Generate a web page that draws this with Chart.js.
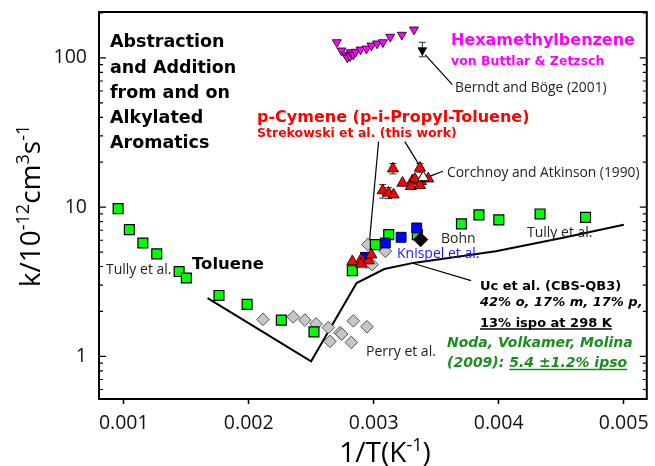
<!DOCTYPE html>
<html><head><meta charset="utf-8">
<script src="https://cdn.jsdelivr.net/npm/chart.js@4.4.1/dist/chart.umd.min.js"></script>
<style>html,body{margin:0;padding:0;background:#fff}canvas{display:block}</style>
</head><body>
<canvas id="c" width="655" height="466"></canvas>
<script>
// ---------- data (x = 1/T in K^-1, y = k / 1e-12 cm3 s-1) ----------
const xTickValues = [0.001, 0.002, 0.003, 0.004, 0.005];
const yMajorTicks = [1, 10, 100];
const yMinorTicks = [0.6, 0.7, 0.8, 0.9, 2, 3, 4, 5, 6, 7, 8, 9, 20, 30, 40, 50, 60, 70, 80, 90, 200];

// Hexamethylbenzene, von Buttlar & Zetzsch
const hmbX = [0.002705, 0.002742, 0.002776, 0.002789, 0.002811, 0.002816, 0.002837, 0.002855, 0.002895, 0.002942, 0.002982, 0.003027, 0.003074, 0.003132, 0.003225, 0.003322];
const hmbY = [127.2, 111.9, 105.1, 100.5, 102.5, 109.0, 105.2, 109.7, 113.6, 115.4, 120.9, 124.7, 127.2, 138.3, 142.6, 154.8];
// Berndt and Boge (2001)
const berndtX = [0.003389];
const berndtY = [112.5];
const berndtLo = [101.7];
const berndtHi = [127.2];
// p-Cymene, Strekowski et al. (this work)
const cymeneX = [0.003154, 0.003370, 0.003230, 0.003309, 0.003298, 0.003377, 0.003330, 0.003436, 0.003370, 0.003072, 0.003119, 0.003159, 0.002829, 0.002900, 0.002900, 0.002961, 0.002981];
const cymeneY = [18.1, 18.3, 14.5, 15.05, 13.8, 14.9, 15.45, 15.5, 14.0, 12.9, 12.45, 12.1, 4.33, 4.47, 4.16, 4.38, 4.80];
const cymeneLo = [16.7, 17.1, null, null, null, null, null, null, null, 11.5, 11.4, null, null, null, null, 3.91, null];
const cymeneHi = [19.6, 19.6, null, null, null, null, null, null, null, 14.15, 13.5, null, null, null, null, 4.80, null];
// Corchnoy and Atkinson (1990)
const corchnoyX = [0.003396];
const corchnoyY = [15.8];
// Toluene: Tully et al.
const tullyX = [0.000955, 0.001045, 0.001153, 0.001264, 0.001443, 0.001501, 0.001762, 0.001987, 0.002261, 0.002522, 0.002829, 0.003013, 0.003120, 0.003349, 0.003702, 0.003842, 0.004001, 0.004331, 0.004695];
const tullyY = [9.77, 7.07, 5.75, 4.86, 3.70, 3.35, 2.56, 2.23, 1.75, 1.46, 3.75, 5.61, 6.54, 6.54, 7.72, 8.87, 8.21, 9.0, 8.54];
// Toluene: Knispel et al.
const knispelX = [0.002934, 0.003093, 0.003219, 0.003344];
const knispelY = [4.61, 5.75, 6.28, 7.25];
// Toluene: Bohn
const bohnX = [0.003375];
const bohnY = [6.06];
// Toluene: Perry et al.
const perryX = [0.002114, 0.002356, 0.002449, 0.002539, 0.002637, 0.002650, 0.002730, 0.002744, 0.002837, 0.002821, 0.002946, 0.002953, 0.003074, 0.003093, 0.002987];
const perryY = [1.77, 1.84, 1.75, 1.65, 1.56, 1.26, 1.44, 1.41, 1.73, 1.24, 1.58, 5.61, 5.35, 5.06, 4.12];
// Uc et al. (CBS-QB3) calculation
const ucX = [0.001671, 0.002499, 0.002863, 0.003085, 0.003318, 0.003977, 0.004505, 0.005001];
const ucY = [2.46, 0.926, 3.10, 3.85, 4.23, 5.06, 6.22, 7.63];
// leader lines (data coordinates)
const leaderBerndt = [[0.003411, 105.2], [0.003629, 66.2]];
const leaderCymeneA = [[0.003039, 27.5], [0.002960, 5.19]];
const leaderCymeneB = [[0.003249, 27.5], [0.003367, 18.97]];
const leaderCorchnoy = [[0.003447, 16.08], [0.003553, 17.38]];
const leaderUc = [[0.003312, 4.21], [0.003779, 3.22]];

// ---------- helpers ----------
const pts = (xs, ys) => xs.map((x, i) => ({x: x, y: ys[i]}));
const seg = (p) => p.map(q => ({x: q[0], y: q[1]}));
const BOLD = '"DejaVu Sans"';
const NORM = '"Open Sans"';

function leaderDs(p, order, w) {
  return {data: seg(p), showLine: true, pointRadius: 0, borderColor: '#000', borderWidth: w || 1.2, order: order};
}

const datasets = [
  {label: 'Hexamethylbenzene', data: pts(hmbX, hmbY), pointStyle: 'triangle', rotation: 180, pointRadius: 5.2,
   backgroundColor: '#ff00ff', borderColor: '#000', borderWidth: 0.8, order: 1},
  {label: 'Berndt', data: pts(berndtX, berndtY), pointStyle: 'triangle', rotation: 180, pointRadius: 5,
   backgroundColor: '#000', borderColor: '#000', borderWidth: 0.8, order: 1, errLo: berndtLo, errHi: berndtHi},
  {label: 'Corchnoy', data: pts(corchnoyX, corchnoyY), pointStyle: 'triangle', pointRadius: 6.5,
   backgroundColor: '#fff', borderColor: '#000', borderWidth: 1, order: 2},
  {label: 'p-Cymene', data: pts(cymeneX, cymeneY), pointStyle: 'triangle', pointRadius: 6.5,
   backgroundColor: '#ff0000', borderColor: '#000', borderWidth: 0.8, order: 3, errLo: cymeneLo, errHi: cymeneHi},
  {label: 'Bohn', data: pts(bohnX, bohnY), pointStyle: 'rectRot', pointRadius: 7.2,
   backgroundColor: '#000', borderColor: '#000', borderWidth: 1, order: 4},
  {label: 'Knispel', data: pts(knispelX, knispelY), pointStyle: 'rect', pointRadius: 7,
   backgroundColor: '#0000ff', borderColor: '#000040', borderWidth: 1, order: 5},
  {label: 'Tully', data: pts(tullyX, tullyY), pointStyle: 'rect', pointRadius: 7,
   backgroundColor: '#00ff00', borderColor: '#000', borderWidth: 1.2, order: 6},
  {label: 'Perry', data: pts(perryX, perryY), pointStyle: 'rectRot', pointRadius: 6.3,
   backgroundColor: '#c6c6c6', borderColor: '#555', borderWidth: 1, order: 7},
  {label: 'Uc', data: pts(ucX, ucY), showLine: true, pointRadius: 0, borderColor: '#000', borderWidth: 2, order: 8},
  leaderDs(leaderBerndt, 9), leaderDs(leaderCymeneA, 9), leaderDs(leaderCymeneB, 9),
  leaderDs(leaderCorchnoy, 9), leaderDs(leaderUc, 9)
];

// ---------- text annotations ----------
const texts = [
  {x: 110, y: 47, segs: [{t: 'Abstraction', f: 'bold 17.5px ' + BOLD}]},
  {x: 110, y: 72.5, segs: [{t: 'and Addition', f: 'bold 17.5px ' + BOLD}]},
  {x: 110, y: 98, segs: [{t: 'from and on', f: 'bold 17.5px ' + BOLD}]},
  {x: 110, y: 123, segs: [{t: 'Alkylated', f: 'bold 17.5px ' + BOLD}]},
  {x: 110, y: 148, segs: [{t: 'Aromatics', f: 'bold 17.5px ' + BOLD}]},
  {x: 451, y: 45, segs: [{t: 'Hexamethylbenzene', f: 'bold 16px ' + BOLD, c: '#ff00ff'}]},
  {x: 451, y: 65, segs: [{t: 'von Buttlar & Zetzsch', f: 'bold 12.5px ' + BOLD, c: '#ff00ff'}]},
  {x: 455, y: 91.5, segs: [{t: 'Berndt and Böge (2001)', f: '13.8px ' + NORM, c: '#222'}]},
  {x: 257, y: 121.5, segs: [{t: 'p-Cymene (p-i-Propyl-Toluene)', f: 'bold 16px ' + BOLD, c: '#ff0000'}]},
  {x: 257, y: 136.5, segs: [{t: 'Strekowski et al. (this work)', f: 'bold 12.5px ' + BOLD, c: '#ff0000'}]},
  {x: 447, y: 177, segs: [{t: 'Corchnoy and Atkinson (1990)', f: '13.8px ' + NORM, c: '#222'}]},
  {x: 441, y: 243, segs: [{t: 'Bohn', f: '14px ' + NORM, c: '#222'}]},
  {x: 397, y: 257.5, segs: [{t: 'Knispel et al.', f: '14px ' + NORM, c: '#1a1aff'}]},
  {x: 527, y: 237, segs: [{t: 'Tully et al.', f: '14px ' + NORM, c: '#222'}]},
  {x: 106, y: 274, segs: [{t: 'Tully et al.', f: '14px ' + NORM, c: '#222'}]},
  {x: 192, y: 268.5, segs: [{t: 'Toluene', f: 'bold 16.5px ' + BOLD, c: '#000'}]},
  {x: 366, y: 356, segs: [{t: 'Perry et al.', f: '14px ' + NORM, c: '#222'}]},
  {x: 480, y: 289.5, segs: [{t: 'Uc et al. (CBS-QB3)', f: 'bold 13px ' + BOLD, c: '#000'}]},
  {x: 480, y: 306, segs: [{t: '42% o, 17% m, 17% p,', f: 'italic bold 13px ' + BOLD, c: '#000'}]},
  {x: 480, y: 326.5, segs: [{t: '13% ispo at 298 K', f: 'bold 13px ' + BOLD, c: '#000', u: true}]},
  {x: 447, y: 347, segs: [{t: 'Noda, Volkamer, Molina', f: 'italic bold 14px ' + BOLD, c: '#1e8c1e'}]},
  {x: 447, y: 367, segs: [{t: '(2009): ', f: 'italic bold 14px ' + BOLD, c: '#1e8c1e'},
                         {t: '5.4 ±1.2% ipso', f: 'italic bold 14px ' + BOLD, c: '#1e8c1e', u: true}]}
];
const xTitle = [{t: '1/T(K', s: 28}, {t: '-1', s: 18, up: 11}, {t: ')', s: 28}];
const yTitle = [{t: 'k/10', s: 28}, {t: '-12', s: 18, up: 11}, {t: 'cm', s: 28}, {t: '3', s: 18, up: 11}, {t: 's', s: 28}, {t: '-1', s: 18, up: 11}];

function drawSegs(ctx, x, y, segs) {
  let cx = x;
  segs.forEach(s => {
    ctx.font = s.f;
    ctx.fillStyle = s.c || '#000';
    ctx.fillText(s.t, cx, y);
    const w = ctx.measureText(s.t).width;
    if (s.u) {
      ctx.strokeStyle = s.c || '#000';
      ctx.lineWidth = 1.3;
      ctx.beginPath(); ctx.moveTo(cx, y + 2.5); ctx.lineTo(cx + w, y + 2.5); ctx.stroke();
    }
    cx += w;
  });
}
function drawTitle(ctx, segs, cx, cy) {
  let total = 0;
  segs.forEach(s => { ctx.font = s.s + 'px ' + NORM; total += ctx.measureText(s.t).width; });
  let x = cx - total / 2;
  segs.forEach(s => {
    ctx.font = s.s + 'px ' + NORM;
    ctx.fillText(s.t, x, cy - (s.up || 0));
    x += ctx.measureText(s.t).width;
  });
}

const decorPlugin = {
  id: 'decor',
  beforeDatasetsDraw(chart) {
    const ctx = chart.ctx, xs = chart.scales.x, ys = chart.scales.y;
    ctx.save();
    ctx.strokeStyle = '#333';
    ctx.lineWidth = 1;
    chart.data.datasets.forEach(ds => {
      if (!ds.errLo) return;
      ds.data.forEach((p, i) => {
        if (ds.errLo[i] == null) return;
        const px = xs.getPixelForValue(p.x);
        const y1 = ys.getPixelForValue(ds.errLo[i]), y2 = ys.getPixelForValue(ds.errHi[i]);
        ctx.beginPath();
        ctx.moveTo(px, y1); ctx.lineTo(px, y2);
        ctx.moveTo(px - 3.5, y1); ctx.lineTo(px + 3.5, y1);
        ctx.moveTo(px - 3.5, y2); ctx.lineTo(px + 3.5, y2);
        ctx.stroke();
      });
    });
    ctx.restore();
  },
  afterDraw(chart) {
    const ctx = chart.ctx, a = chart.chartArea, ys = chart.scales.y;
    ctx.save();
    // frame
    ctx.strokeStyle = '#000';
    ctx.lineWidth = 2;
    ctx.strokeRect(a.left, a.top, a.right - a.left, a.bottom - a.top);
    // inner y ticks on both sides
    ctx.lineWidth = 1.2;
    yMajorTicks.concat(yMinorTicks).forEach(v => {
      const py = ys.getPixelForValue(v);
      if (py < a.top || py > a.bottom) return;
      const len = yMajorTicks.includes(v) ? 7 : 4;
      ctx.beginPath();
      ctx.moveTo(a.left, py); ctx.lineTo(a.left + len, py);
      ctx.moveTo(a.right, py); ctx.lineTo(a.right - len, py);
      ctx.stroke();
    });
    // annotations
    ctx.textBaseline = 'alphabetic';
    ctx.textAlign = 'left';
    texts.forEach(t => drawSegs(ctx, t.x, t.y, t.segs));
    // axis titles
    ctx.fillStyle = '#000';
    drawTitle(ctx, xTitle, 385, 462);
    ctx.save();
    ctx.translate(40, 206);
    ctx.rotate(-Math.PI / 2);
    drawTitle(ctx, yTitle, 0, 0);
    ctx.restore();
    ctx.restore();
  }
};

new Chart(document.getElementById('c'), {
  type: 'scatter',
  data: {datasets: datasets},
  options: {
    responsive: false,
    animation: false,
    events: [],
    layout: {padding: {left: 0, right: 2, top: 12, bottom: 0}},
    plugins: {legend: {display: false}, tooltip: {enabled: false}},
    scales: {
      x: {
        type: 'linear', min: 0.000802, max: 0.005185,
        afterBuildTicks: s => { s.ticks = xTickValues.map(v => ({value: v})); },
        afterFit: s => { s.height = 67; s.paddingLeft = 0; s.paddingRight = 0; },
        grid: {drawOnChartArea: false, drawTicks: true, tickLength: 5, tickColor: '#000', tickWidth: 1.5},
        border: {display: false},
        ticks: {font: {family: 'Open Sans', size: 19.5}, color: '#111', padding: 8, maxRotation: 0, autoSkip: false,
                callback: v => Number(v).toFixed(3)}
      },
      y: {
        type: 'logarithmic', min: 0.518, max: 203,
        afterBuildTicks: s => { s.ticks = yMajorTicks.concat(yMinorTicks).sort((a, b) => a - b).map(v => ({value: v})); },
        afterFit: s => { s.width = 99; s.paddingTop = 0; s.paddingBottom = 0; },
        grid: {drawOnChartArea: false, drawTicks: false},
        border: {display: false},
        ticks: {font: {family: 'Open Sans', size: 19.5}, color: '#111', padding: 12, autoSkip: false,
                callback: v => yMajorTicks.includes(v) ? String(v) : ''}
      }
    }
  },
  plugins: [decorPlugin]
});
</script>
</body></html>
